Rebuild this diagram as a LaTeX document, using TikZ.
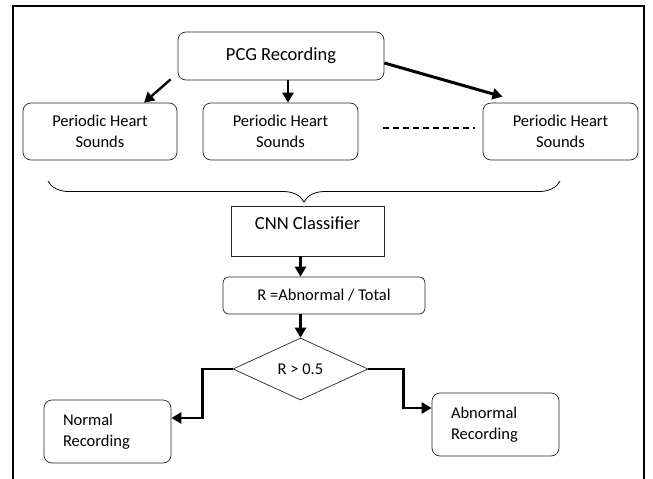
\documentclass[tikz,border=0pt]{standalone}
\usepackage{fontspec}
\setmainfont{Carlito}
\usetikzlibrary{shapes.geometric,arrows.meta,decorations.pathreplacing}

\begin{document}
\begin{tikzpicture}[x=1pt,y=-1pt]
    \tikzstyle{stage}=[draw=black!85,line width=0.7pt,rounded corners=8pt,align=center,inner sep=0pt,font=\fontsize{16.5}{21}\selectfont];
    \tikzstyle{flow}=[-{Triangle[length=10pt,width=11pt]},line width=2.4pt];
    \useasboundingbox (0,0) rectangle (653,479);
    \draw[line width=1.8pt] (13,479) -- (13,6) -- (644,6) -- (644,479);

    \node (pcg) [stage,minimum width=206pt,minimum height=48pt,font=\fontsize{18.5}{22}\selectfont] at (281,56) {PCG Recording};
    \node (ph1) [stage,minimum width=154pt,minimum height=57pt] at (100,131.5) {Periodic Heart\\Sounds};
    \node (ph2) [stage,minimum width=155pt,minimum height=57pt] at (280.5,131.5) {Periodic Heart\\Sounds};
    \node (ph3) [stage,minimum width=155pt,minimum height=57pt] at (560.5,131.5) {Periodic Heart\\Sounds};
    \node (cnn) [draw=black!85,line width=0.7pt,minimum width=153pt,minimum height=50pt,inner sep=0pt,text height=13pt,text depth=16pt,font=\fontsize{18.5}{22}\selectfont] at (307.5,231) {CNN Classifier};
    \node (rbox) [stage,rounded corners=6pt,minimum width=202pt,minimum height=37pt] at (324,295.5) {R =Abnormal / Total};
    \node (dia) [draw=black!85,line width=0.7pt,diamond,aspect=2.2,minimum width=135pt,minimum height=62pt,inner sep=0pt,font=\fontsize{16.5}{21}\selectfont] at (300.5,369) {R > 0.5};
    \node (normal) [stage,align=left,text width=89pt,minimum width=127pt,minimum height=63pt] at (107.5,431.5) {Normal\\Recording};
    \node (abnormal) [stage,align=left,text width=89pt,minimum width=127pt,minimum height=63pt] at (495.5,424.5) {Abnormal\\Recording};

    \draw[flow] ([xshift=-7pt,yshift=1pt]pcg.south west) -- ([xshift=44pt]ph1.north);
    \draw[flow] ([xshift=7pt]pcg.south) -- ([xshift=7pt]pcg.south |- ph2.north);
    \draw[flow,line width=3pt] ([yshift=-7pt]pcg.east) -- ([xshift=-58pt,yshift=6pt]ph3.north);
    \draw[line width=1.6pt,dash pattern=on 6pt off 4pt] ([xshift=25pt,yshift=3.5pt]ph2.east) -- ([xshift=-8pt,yshift=3.5pt]ph3.west);

    \coordinate (brl) at (48,181);
    \coordinate (brr) at (560,181);
    \draw[line width=0.8pt,decorate,decoration={brace,mirror,amplitude=21pt}] (brl) -- (brr);

    \draw[flow] (cnn.south -| dia.north) -- (rbox.north -| dia.north);
    \draw[flow] (rbox.south -| dia.north) -- (dia.north);
    \draw[flow,line width=2.8pt] (dia.west) -- ++(-30pt,0) |- ([yshift=13.5pt]normal.east);
    \draw[flow,line width=2.8pt] (dia.east) -- ++(35pt,0) |- ([yshift=16.5pt]abnormal.west);
\end{tikzpicture}
\end{document}
